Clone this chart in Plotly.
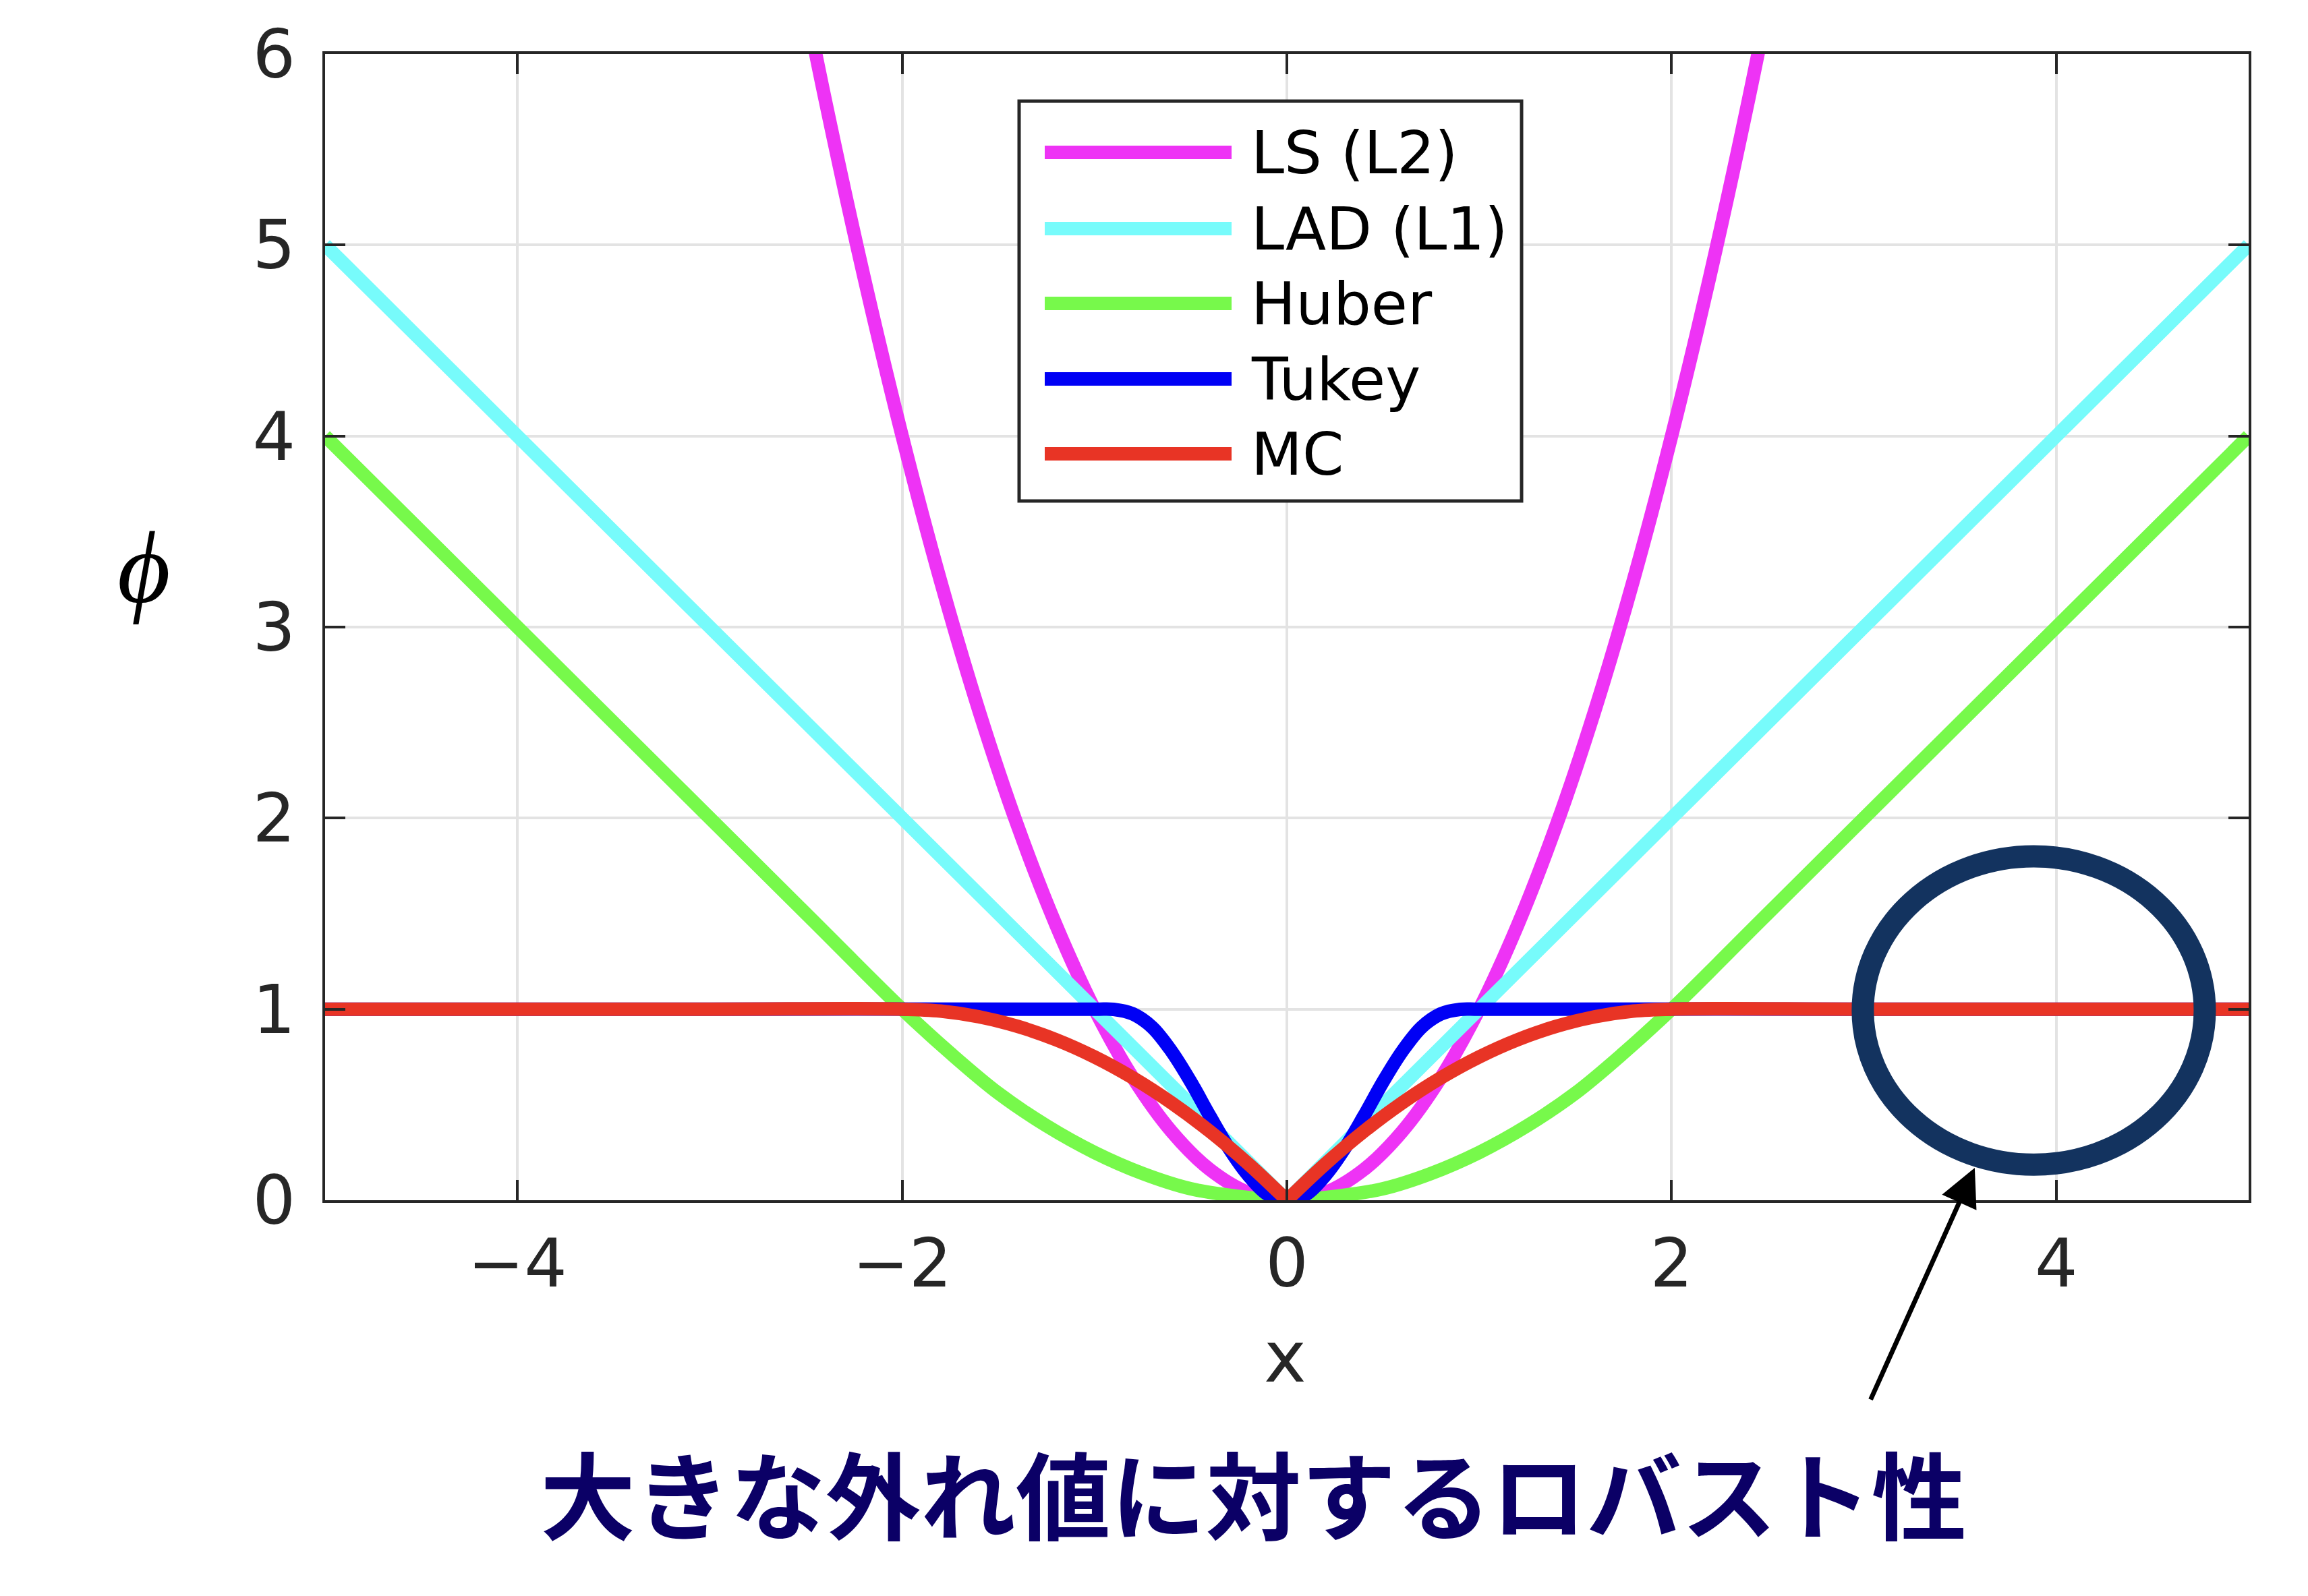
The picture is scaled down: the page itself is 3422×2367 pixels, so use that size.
import plotly.graph_objects as go

# ---- data ----
x_ls = [-2.6, -2.4, -2.2, -2.0, -1.8, -1.6, -1.4, -1.2, -1.0, -0.8, -0.6, -0.4, -0.2, 0.0,
        0.2, 0.4, 0.6, 0.8, 1.0, 1.2, 1.4, 1.6, 1.8, 2.0, 2.2, 2.4, 2.6]
y_ls = [6.76, 5.76, 4.84, 4.0, 3.24, 2.56, 1.96, 1.44, 1.0, 0.64, 0.36, 0.16, 0.04, 0.0,
        0.04, 0.16, 0.36, 0.64, 1.0, 1.44, 1.96, 2.56, 3.24, 4.0, 4.84, 5.76, 6.76]

x_lad = [-5, 0, 5]
y_lad = [5, 0, 5]

x_huber = [-5, -2.5, -2, -1.75, -1.5, -1.25, -1.0, -0.75, -0.5, -0.25, 0.0,
           0.25, 0.5, 0.75, 1.0, 1.25, 1.5, 1.75, 2, 2.5, 5]
y_huber = [4, 1.5, 1, 0.77, 0.56, 0.39, 0.25, 0.14, 0.06, 0.02, 0.0,
           0.02, 0.06, 0.14, 0.25, 0.39, 0.56, 0.77, 1, 1.5, 4]

x_tukey = [-5, -3, -1.0, -0.9, -0.8, -0.7, -0.6, -0.5, -0.4, -0.3, -0.2, -0.1, 0.0,
           0.1, 0.2, 0.3, 0.4, 0.5, 0.6, 0.7, 0.8, 0.9, 1.0, 3, 5]
y_tukey = [1, 1, 1.0, 0.999, 0.975, 0.905, 0.78, 0.62, 0.44, 0.27, 0.13, 0.03, 0.0,
           0.03, 0.13, 0.27, 0.44, 0.62, 0.78, 0.905, 0.975, 0.999, 1.0, 1, 1]

# MC has a sharp V at 0: the two halves are separate (None gap)
x_mc = [-5, -3, -2.0, -1.8, -1.6, -1.4, -1.2, -1.0, -0.8, -0.6, -0.4, -0.2, 0.0, None,
        0.0, 0.2, 0.4, 0.6, 0.8, 1.0, 1.2, 1.4, 1.6, 1.8, 2.0, 3, 5]
y_mc = [1, 1, 1.0, 0.99, 0.96, 0.91, 0.84, 0.75, 0.64, 0.51, 0.36, 0.19, 0.0, None,
        0.0, 0.19, 0.36, 0.51, 0.64, 0.75, 0.84, 0.91, 0.96, 0.99, 1.0, 1, 1]

series_names = ["LS (L2)", "LAD (L1)", "Huber", "Tukey", "MC"]
series_colors = ["#EE33F5", "#77FBFB", "#77F94B", "#0000F5", "#E83425"]

x_ticks = [-4, -2, 0, 2, 4]
x_tick_labels = ["\u22124", "\u22122", "0", "2", "4"]
y_ticks = [0, 1, 2, 3, 4, 5, 6]

caption = "大きな外れ値に対するロバスト性"

W, H = 3422, 2367
L, R, T, B = 474, 96, 72, 595
PW = W - L - R
PH = H - T - B


def px_x(px):
    return (px - L) / PW


def px_y(py):
    return (H - B - py) / PH


fig = go.Figure()
data = [(x_ls, y_ls), (x_lad, y_lad), (x_huber, y_huber), (x_tukey, y_tukey), (x_mc, y_mc)]
shapes_kind = ["spline", "linear", "spline", "spline", "spline"]
for (xs, ys), shp, name, col in zip(data, shapes_kind, series_names, series_colors):
    fig.add_trace(go.Scatter(x=xs, y=ys, mode="lines", name=name, showlegend=False,
                             connectgaps=False,
                             line=dict(color=col, width=20, shape=shp)))

axis_common = dict(showline=True, linecolor="#262626", linewidth=4, mirror="ticks",
                   ticks="inside", ticklen=30, tickwidth=4, tickcolor="#262626",
                   showgrid=True, gridcolor="#E3E3E3", gridwidth=4, zeroline=False,
                   tickfont=dict(family="DejaVu Sans", size=100, color="#262626"))

fig.update_xaxes(range=[-5, 5], tickvals=x_ticks, ticktext=x_tick_labels,
                 ticklabelstandoff=4, **axis_common)
fig.update_yaxes(range=[0, 6], tickvals=y_ticks, ticklabelstandoff=20, **axis_common)

# ---- legend box drawn as a key (thick sample lines like the reference) ----
leg_left, leg_top, leg_right, leg_bottom = 1503, 142, 2248, 735
row_y = [218, 331, 442, 554, 665]
line_x0, line_x1, text_x = 1541, 1818, 1845

shapes = [dict(type="rect", xref="paper", yref="paper",
               x0=px_x(leg_left), x1=px_x(leg_right), y0=px_y(leg_bottom), y1=px_y(leg_top),
               line=dict(color="#262626", width=5), fillcolor="white", layer="above")]
annotations = []
for name, col, ry in zip(series_names, series_colors, row_y):
    shapes.append(dict(type="line", xref="paper", yref="paper",
                       x0=px_x(line_x0), x1=px_x(line_x1), y0=px_y(ry), y1=px_y(ry),
                       line=dict(color=col, width=20), layer="above"))
    annotations.append(dict(text=name, xref="paper", yref="paper", x=px_x(text_x), y=px_y(ry),
                            xanchor="left", yanchor="middle", showarrow=False,
                            font=dict(family="DejaVu Sans", size=88, color="#000000")))

# highlight ellipse
shapes.append(dict(type="circle", xref="x", yref="y", x0=2.994, x1=4.772, y0=0.186, y1=1.80,
                   line=dict(color="#13335F", width=33), layer="above"))

annotations += [
    dict(text="<i>\u03d5</i>", xref="paper", yref="paper", x=px_x(205), y=px_y(834),
         xanchor="center", yanchor="middle", showarrow=False,
         font=dict(family="Liberation Serif", size=152, color="#000000")),
    dict(text="x", xref="paper", yref="paper", x=px_x(1897), y=px_y(2005),
         xanchor="center", yanchor="middle", showarrow=False,
         font=dict(family="DejaVu Sans", size=106, color="#262626")),
    dict(text="<b>" + caption + "</b>", xref="paper", yref="paper", x=px_x(1850), y=px_y(2203),
         xanchor="center", yanchor="middle", showarrow=False,
         font=dict(family="Noto Sans CJK JP", size=141, color="#0B0066")),
    dict(text="", x=3.576, y=0.169, xref="x", yref="y", showarrow=True,
         ax=-155, ay=345, arrowhead=2, arrowsize=1.6, arrowwidth=7, arrowcolor="#000000"),
]

fig.update_layout(
    width=W, height=H,
    margin=dict(l=L, r=R, t=T, b=B),
    paper_bgcolor="white", plot_bgcolor="white",
    showlegend=False,
    shapes=shapes,
    annotations=annotations,
)

fig.write_html("out.html")
